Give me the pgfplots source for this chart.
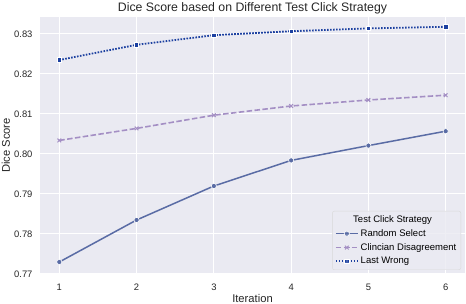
\documentclass[border=0pt]{standalone}
\usepackage{pgfplots}
\pgfplotsset{compat=1.18}
\usepackage{fontspec}
\setmainfont{Liberation Sans}
\definecolor{bg}{HTML}{EAEAF2}
\definecolor{cA}{RGB}{90,108,165}
\definecolor{cB}{RGB}{164,143,196}
\definecolor{cC}{RGB}{28,64,160}
\begin{document}
\begin{tikzpicture}[x=1pt,y=1pt]
\begin{axis}[
  scale only axis, width=425pt, height=257pt, at={(0,0)}, anchor=south west,
  xmin=0.75, xmax=6.25, ymin=0.77, ymax=0.83425,
  axis background/.style={fill=bg},
  axis line style={draw=none},
  grid=major, major grid style={white, line width=1pt},
  tick style={draw=none},
  xtick={1,2,3,4,5,6},
  ytick={0.77,0.78,0.79,0.80,0.81,0.82,0.83},
  /pgf/number format/assume math mode=true,
  yticklabel style={/pgf/number format/fixed, /pgf/number format/fixed zerofill, /pgf/number format/precision=2, xshift=-4pt},
  tick label style={font=\fontsize{9.4}{10}\selectfont, color=black!85},
  xticklabel style={anchor=base, yshift=-16.5pt},
  title={Dice Score based on Different Test Click Strategy},
  every axis title/.style={font=\fontsize{12.3}{14}\selectfont, at={(axis description cs:0.5,1.0233)}, anchor=base, inner sep=0pt, color=black!85},
  xlabel={Iteration}, ylabel={Dice Score},
  label style={font=\fontsize{11.2}{13}\selectfont, color=black!85},
  xlabel style={at={(axis description cs:0.5,-0.109)}, anchor=base, inner sep=0pt},
  ylabel style={at={(axis description cs:-0.0706,0.5)}, anchor=base, inner sep=0pt, rotate=0},
  legend style={at={(1,0)}, anchor=south east, xshift=-4pt, yshift=4pt,
    fill=bg, fill opacity=0.8, text opacity=1, draw=black!15, rounded corners=2pt,
    font=\fontsize{9.5}{11}\selectfont, row sep=1.5pt, inner sep=2.5pt},
  legend cell align=left,
  legend image code/.code={\draw[mark repeat=2,mark phase=2,#1] plot coordinates {(0pt,0pt) (11pt,0pt) (22pt,0pt)};},
]
\addlegendimage{empty legend}
\addlegendentry{\hspace{-7.5pt}Test Click Strategy}
\addplot[cA, line width=1.5pt, mark=*, mark size=2.6pt, mark options={fill=cA, draw=white, line width=0.6pt, solid}]
  coordinates {(1,0.7730) (2,0.7835) (3,0.7920) (4,0.7984) (5,0.8021) (6,0.8057)};
\addlegendentry{Random Select}
\addplot[cB, line width=1.6pt, dash pattern=on 5.5pt off 2.4pt, mark=x, mark size=2.6pt, mark options={draw=cB, line width=1pt, solid}]
  coordinates {(1,0.8034) (2,0.8064) (3,0.8097) (4,0.8120) (5,0.8135) (6,0.8147)};
\addlegendentry{Clincian Disagreement}
\addplot[cC, line width=1.8pt, dash pattern=on 1.6pt off 1.4pt, mark=square*, mark size=2.2pt, mark options={fill=cC, draw=white, line width=0.6pt, solid}]
  coordinates {(1,0.8235) (2,0.8273) (3,0.8297) (4,0.8307) (5,0.8314) (6,0.8318)};
\addlegendentry{Last Wrong}
\end{axis}
\pgfresetboundingbox
\path (-40,-30) rectangle (426,274);
\end{tikzpicture}
\end{document}
